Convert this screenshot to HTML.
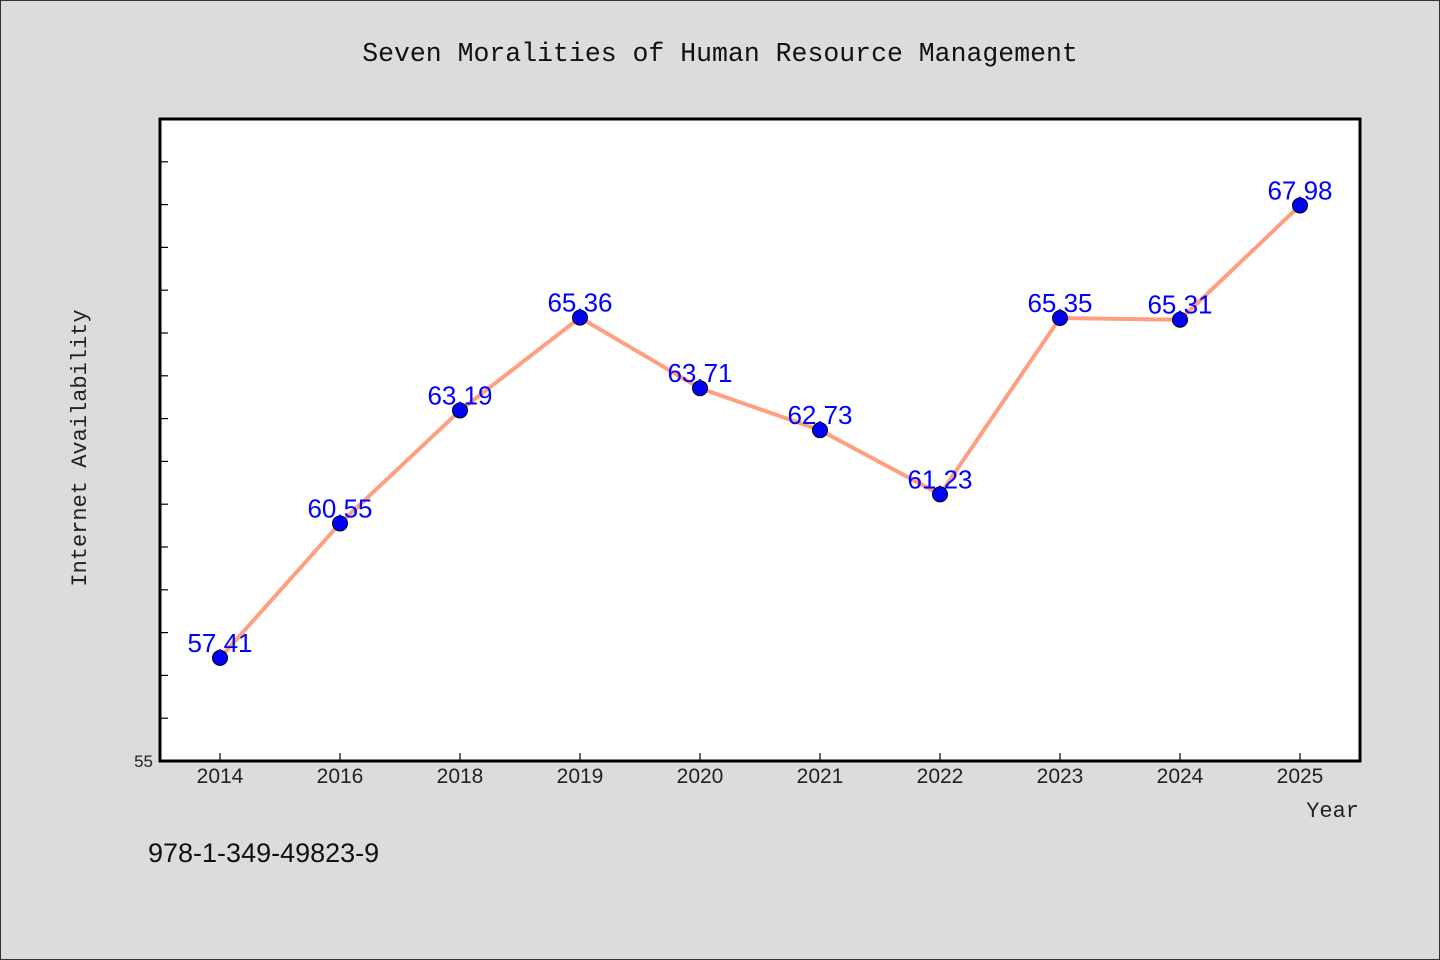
<!DOCTYPE html>
<html><head><meta charset="utf-8"><style>
html,body{margin:0;padding:0;background:#dcdcdc;}
svg{display:block;}
</style></head><body>
<svg id="chart" width="1440" height="960" xmlns="http://www.w3.org/2000/svg">
<rect x="0.5" y="0.5" width="1439" height="959" fill="#dcdcdc" stroke="#333"/>
<text x="720" y="61" text-anchor="middle" font-family="Liberation Mono, monospace" font-size="26.5" fill="#111">Seven Moralities of Human Resource Management</text>
<rect x="160" y="119" width="1200" height="642" fill="#fff"/>
<g id="ticks"></g>
<g id="series"></g>
<rect x="160" y="119" width="1200" height="642" fill="none" stroke="#000" stroke-width="3"/>
<text x="153" y="767" text-anchor="end" font-family="Liberation Sans, sans-serif" font-size="17" fill="#222">55</text>
<text x="86" y="448" text-anchor="middle" transform="rotate(-90 86 448)" font-family="Liberation Mono, monospace" font-size="22" fill="#222">Internet Availability</text>
<text x="1359" y="817" text-anchor="end" font-family="Liberation Mono, monospace" font-size="22" fill="#222">Year</text>
<text x="148" y="862" font-family="Liberation Sans, sans-serif" font-size="27" fill="#111">978-1-349-49823-9</text>
</svg>
<script>
const categories = ["2014","2016","2018","2019","2020","2021","2022","2023","2024","2025"];
const values = [57.41,60.55,63.19,65.36,63.71,62.73,61.23,65.35,65.31,67.98];
const valueLabels = ["57.41","60.55","63.19","65.36","63.71","62.73","61.23","65.35","65.31","67.98"];
const yMin = 55, yMax = 70;
const NS="http://www.w3.org/2000/svg";
const X0=160,W=1200,Y0=119,H=642;
function xs(i){return X0+W/categories.length*(i+0.5);}
function ys(v){return Y0+H-(v-yMin)/(yMax-yMin)*H;}
function mk(t,a,p){const e=document.createElementNS(NS,t);for(const k in a)e.setAttribute(k,a[k]);p.appendChild(e);return e;}
const tg=document.getElementById('ticks'), sg=document.getElementById('series');
for(let v=yMin+1;v<yMax;v++){
  const t=mk('line',{x1:160,x2:168,y1:ys(v),y2:ys(v),stroke:'#000','stroke-width':1.2},tg);
  
  
}
categories.forEach((c,i)=>{
  const t=mk('line',{x1:xs(i),x2:xs(i),y1:761,y2:753,stroke:'#000','stroke-width':1.2},tg);
  
  
  const l=mk('text',{x:xs(i),y:783,'text-anchor':'middle','font-family':'Liberation Sans, sans-serif','font-size':21,fill:'#222'},tg);
  l.textContent=c;
  
  
});
const pl=mk('polyline',{points:values.map((v,i)=>xs(i)+','+ys(v)).join(' '),fill:'none',stroke:'#ff9f7f','stroke-width':4,'stroke-linejoin':'round'},sg);


values.forEach((v,i)=>{
  const c=mk('circle',{cx:xs(i),cy:ys(v),r:7.5,fill:'#0000ff',stroke:'#000','stroke-width':1},sg);
  
  
});
values.forEach((v,i)=>{
  const t=mk('text',{x:xs(i),y:ys(v)-6,'text-anchor':'middle','font-family':'Liberation Sans, sans-serif','font-size':26,fill:'#0000ff'},sg);
  t.textContent=valueLabels[i];
  
  
});
</script>
</body></html>
